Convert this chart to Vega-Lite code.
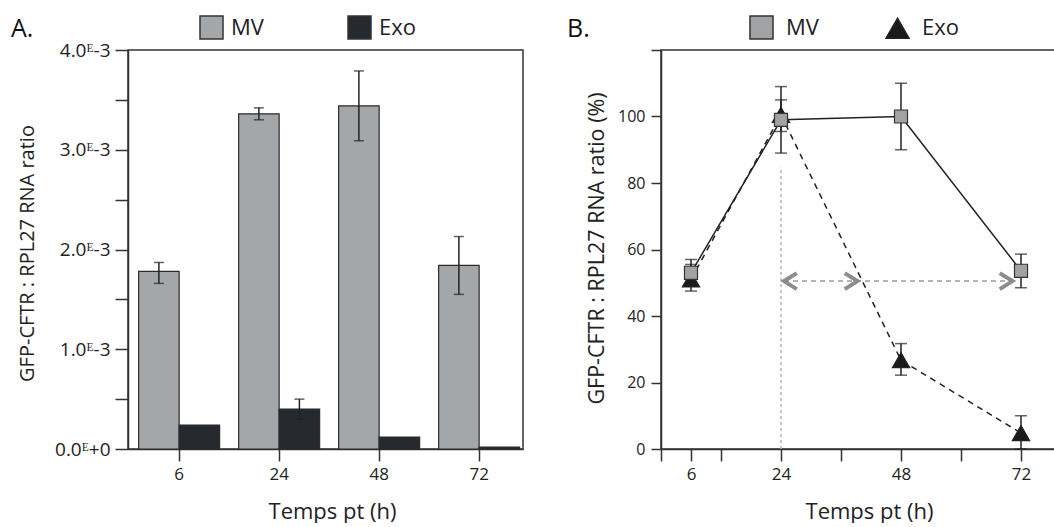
{
  "$schema": "https://vega.github.io/schema/vega-lite/v6.json",
  "padding": {"left": 10, "top": 14, "right": 0, "bottom": 0},
  "background": "white",
  "config": {
    "font": "Open Sans",
    "view": {"stroke": "#333", "strokeWidth": 1.5},
    "axis": {"domainColor": "#333", "tickColor": "#333", "domainWidth": 1.5, "tickWidth": 1.5, "labelColor": "#222", "titleColor": "#222", "grid": false, "titleFontWeight": "normal"}
  },
  "bounds": "flush",
  "spacing": 138,
  "resolve": {
    "scale": {"x": "independent", "y": "independent", "color": "independent", "fill": "independent", "shape": "independent", "stroke": "independent"},
    "legend": {"color": "independent", "fill": "independent", "shape": "independent", "stroke": "independent"}
  },
  "hconcat": [
    {
      "width": 395,
      "height": 399,
      "data": {"values": [
        {"t": 6, "s": "MV", "v": 0.00178, "lo": 0.00166, "hi": 0.00187},
        {"t": 6, "s": "Exo", "v": 0.00024, "lo": null, "hi": null},
        {"t": 24, "s": "MV", "v": 0.00336, "lo": 0.0033, "hi": 0.00342},
        {"t": 24, "s": "Exo", "v": 0.0004, "lo": 0.0003, "hi": 0.0005},
        {"t": 48, "s": "MV", "v": 0.00344, "lo": 0.00309, "hi": 0.00379},
        {"t": 48, "s": "Exo", "v": 0.00012, "lo": null, "hi": null},
        {"t": 72, "s": "MV", "v": 0.00184, "lo": 0.00155, "hi": 0.00213},
        {"t": 72, "s": "Exo", "v": 0.00002, "lo": null, "hi": null}
      ]},
      "layer": [
        {
          "mark": {"type": "bar", "stroke": "#2b2b2b", "strokeWidth": 1.2},
          "encoding": {
            "x": {"field": "t", "type": "ordinal", "scale": {"paddingInner": 0.19, "paddingOuter": 0.07, "align": 0.76},
              "axis": {"labelAngle": 0, "tickSize": 12, "labelPadding": 5, "labelFontSize": 17, "title": "Temps pt (h)", "titleFontSize": 22, "titleX": 204, "titleY": 69, "titleBaseline": "alphabetic"}},
            "xOffset": {"field": "s", "type": "nominal", "sort": ["MV", "Exo"], "scale": {"domain": ["MV", "Exo"], "paddingInner": 0, "paddingOuter": 0}},
            "y": {"field": "v", "type": "quantitative", "scale": {"domain": [0, 0.004], "nice": false},
              "axis": {"values": [0, 0.0005, 0.001, 0.0015, 0.002, 0.0025, 0.003, 0.0035, 0.004],
                "labelExpr": "datum.value == 0 ? '0.0ᴱ+0' : (round(datum.value * 2000) % 2 == 0 ? round(datum.value * 1000) + '.0ᴱ-3' : '')",
                "tickSize": 13, "labelPadding": 5, "labelFontSize": 19, "title": "GFP-CFTR : RPL27 RNA ratio", "titleFontSize": 20, "titleX": -101, "titleY": 203, "titleBaseline": "middle"}},
            "color": {"field": "s", "type": "nominal", "sort": ["MV", "Exo"], "scale": {"domain": ["MV", "Exo"], "range": ["#a4a7aa", "#26292e"]},
              "legend": {"orient": "none", "legendX": -117, "legendY": -35, "direction": "horizontal", "title": "A.", "titleOrient": "left", "titleFontSize": 25, "titleFontWeight": "normal", "titleColor": "#111", "titlePadding": 165, "symbolType": "square", "symbolSize": 529, "symbolStrokeColor": "#333", "symbolStrokeWidth": 1.5, "labelFontSize": 22, "labelOffset": 7, "columnPadding": 81, "labelColor": "#222"}}
          }
        },
        {
          "mark": {"type": "rule", "color": "#222", "strokeWidth": 1.5},
          "encoding": {
            "x": {"field": "t", "type": "ordinal"},
            "xOffset": {"field": "s", "type": "nominal", "sort": ["MV", "Exo"]},
            "y": {"field": "lo", "type": "quantitative"},
            "y2": {"field": "hi"}
          }
        },
        {
          "mark": {"type": "tick", "color": "#222", "thickness": 1.5, "size": 10},
          "encoding": {
            "x": {"field": "t", "type": "ordinal"},
            "xOffset": {"field": "s", "type": "nominal", "sort": ["MV", "Exo"]},
            "y": {"field": "hi", "type": "quantitative"}
          }
        },
        {
          "mark": {"type": "tick", "color": "#222", "thickness": 1.5, "size": 10},
          "encoding": {
            "x": {"field": "t", "type": "ordinal"},
            "xOffset": {"field": "s", "type": "nominal", "sort": ["MV", "Exo"]},
            "y": {"field": "lo", "type": "quantitative"}
          }
        }
      ]
    },
    {
      "width": 395,
      "height": 399,
      "data": {"values": [
        {"t": 6, "s": "MV", "v": 53, "lo": 49, "hi": 57},
        {"t": 24, "s": "MV", "v": 99, "lo": 89, "hi": 109},
        {"t": 48, "s": "MV", "v": 100, "lo": 90, "hi": 110},
        {"t": 72, "s": "MV", "v": 53.6, "lo": 48.5, "hi": 58.6},
        {"t": 6, "s": "Exo", "v": 51, "lo": 47.5, "hi": 55.5},
        {"t": 24, "s": "Exo", "v": 100.5, "lo": 95.5, "hi": 105},
        {"t": 48, "s": "Exo", "v": 26.7, "lo": 22.2, "hi": 31.7},
        {"t": 72, "s": "Exo", "v": 4.8, "lo": 0, "hi": 10}
      ]},
      "layer": [
        {
          "mark": {"type": "point", "filled": true, "opacity": 0},
          "encoding": {
            "x": {"field": "t", "type": "quantitative", "scale": {"domain": [0, 79], "nice": false, "zero": false},
              "axis": {"values": [0, 6, 12, 24, 36, 48, 60, 72], "labelExpr": "datum.value == 6 || datum.value == 24 || datum.value == 48 || datum.value == 72 ? datum.label : ''",
                "tickSize": 12, "labelPadding": 5, "labelFontSize": 17, "title": "Temps pt (h)", "titleFontSize": 22, "titleX": 208, "titleY": 69, "titleBaseline": "alphabetic"}},
            "y": {"field": "v", "type": "quantitative", "scale": {"domain": [0, 120], "nice": false},
              "axis": {"values": [0, 20, 40, 60, 80, 100, 120], "labelExpr": "datum.value < 110 ? datum.label : ''",
                "tickSize": 10, "labelPadding": 6, "labelFontSize": 16, "title": "GFP-CFTR : RPL27 RNA ratio (%)", "titleFontSize": 21.5, "titleX": -64, "titleY": 198, "titleBaseline": "middle"}}
          }
        },
        {
          "data": {"values": [{"t": 24, "a": 0, "b": 85}]},
          "mark": {"type": "rule", "color": "#b5b5b5", "strokeWidth": 1.5, "strokeDash": [3, 3]},
          "encoding": {
            "x": {"field": "t", "type": "quantitative"},
            "y": {"field": "a", "type": "quantitative"},
            "y2": {"field": "b"}
          }
        },
        {
          "data": {"values": [{"a": 24.6, "b": 70.3, "v": 50.5}]},
          "mark": {"type": "rule", "color": "#9a9a9a", "strokeWidth": 1.5, "strokeDash": [5, 4]},
          "encoding": {
            "x": {"field": "a", "type": "quantitative"},
            "x2": {"field": "b"},
            "y": {"field": "v", "type": "quantitative"}
          }
        },
        {
          "data": {"values": [{"t": 24.6, "v": 50.5}]},
          "mark": {"type": "point", "shape": "M1.6,-1L0,0L1.6,1", "size": 256, "filled": false, "stroke": "#8c8c8c", "strokeWidth": 4, "opacity": 1},
          "encoding": {
            "x": {"field": "t", "type": "quantitative"},
            "y": {"field": "v", "type": "quantitative"}
          }
        },
        {
          "data": {"values": [{"t": 39.3, "v": 50.5}, {"t": 70.3, "v": 50.5}]},
          "mark": {"type": "point", "shape": "M-1.6,-1L0,0L-1.6,1", "size": 256, "filled": false, "stroke": "#8c8c8c", "strokeWidth": 4, "opacity": 1},
          "encoding": {
            "x": {"field": "t", "type": "quantitative"},
            "y": {"field": "v", "type": "quantitative"}
          }
        },
        {
          "transform": [{"filter": "datum.s == 'MV'"}],
          "mark": {"type": "line", "color": "#222", "strokeWidth": 1.5},
          "encoding": {
            "x": {"field": "t", "type": "quantitative"},
            "y": {"field": "v", "type": "quantitative"}
          }
        },
        {
          "transform": [{"filter": "datum.s == 'Exo'"}],
          "mark": {"type": "line", "color": "#222", "strokeWidth": 1.5, "strokeDash": [6, 5]},
          "encoding": {
            "x": {"field": "t", "type": "quantitative"},
            "y": {"field": "v", "type": "quantitative"}
          }
        },
        {
          "mark": {"type": "rule", "color": "#222", "strokeWidth": 1.5},
          "encoding": {
            "x": {"field": "t", "type": "quantitative"},
            "y": {"field": "lo", "type": "quantitative"},
            "y2": {"field": "hi"}
          }
        },
        {
          "mark": {"type": "tick", "orient": "horizontal", "color": "#222", "thickness": 1.5, "size": 12},
          "encoding": {
            "x": {"field": "t", "type": "quantitative"},
            "y": {"field": "hi", "type": "quantitative"}
          }
        },
        {
          "mark": {"type": "tick", "orient": "horizontal", "color": "#222", "thickness": 1.5, "size": 12},
          "encoding": {
            "x": {"field": "t", "type": "quantitative"},
            "y": {"field": "lo", "type": "quantitative"}
          }
        },
        {
          "transform": [{"filter": "datum.s == 'Exo'"}],
          "mark": {"type": "point", "filled": true, "strokeWidth": 1.2, "opacity": 1, "size": 300},
          "encoding": {
            "x": {"field": "t", "type": "quantitative"},
            "y": {"field": "v", "type": "quantitative"},
            "shape": {"field": "s", "type": "nominal", "sort": ["MV", "Exo"], "scale": {"domain": ["MV", "Exo"], "range": ["square", "triangle-up"]},
              "legend": {"orient": "none", "legendX": -94, "legendY": -35, "direction": "horizontal", "title": "B.", "titleOrient": "left", "titleFontSize": 25, "titleFontWeight": "normal", "titleColor": "#111", "titlePadding": 159, "symbolSize": 529, "symbolStrokeWidth": 1.5, "labelFontSize": 22, "labelOffset": 12, "columnPadding": 64, "labelColor": "#222"}},
            "fill": {"field": "s", "type": "nominal", "sort": ["MV", "Exo"], "scale": {"domain": ["MV", "Exo"], "range": ["#a0a2a4", "#1a1a1a"]},
              "legend": {"orient": "none", "legendX": -94, "legendY": -35, "direction": "horizontal", "title": "B.", "titleOrient": "left", "titleFontSize": 25, "titleFontWeight": "normal", "titleColor": "#111", "titlePadding": 159, "symbolSize": 529, "symbolStrokeWidth": 1.5, "labelFontSize": 22, "labelOffset": 12, "columnPadding": 64, "labelColor": "#222"}},
            "stroke": {"field": "s", "type": "nominal", "sort": ["MV", "Exo"], "scale": {"domain": ["MV", "Exo"], "range": ["#333333", "#222222"]},
              "legend": {"orient": "none", "legendX": -94, "legendY": -35, "direction": "horizontal", "title": "B.", "titleOrient": "left", "titleFontSize": 25, "titleFontWeight": "normal", "titleColor": "#111", "titlePadding": 159, "symbolSize": 529, "symbolStrokeWidth": 1.5, "labelFontSize": 22, "labelOffset": 12, "columnPadding": 64, "labelColor": "#222"}}
          }
        },
        {
          "transform": [{"filter": "datum.s == 'MV'"}],
          "mark": {"type": "point", "filled": true, "strokeWidth": 1.2, "opacity": 1, "size": 170},
          "encoding": {
            "x": {"field": "t", "type": "quantitative"},
            "y": {"field": "v", "type": "quantitative"},
            "shape": {"field": "s", "type": "nominal", "sort": ["MV", "Exo"]},
            "fill": {"field": "s", "type": "nominal", "sort": ["MV", "Exo"]},
            "stroke": {"field": "s", "type": "nominal", "sort": ["MV", "Exo"]}
          }
        }
      ]
    }
  ]
}
